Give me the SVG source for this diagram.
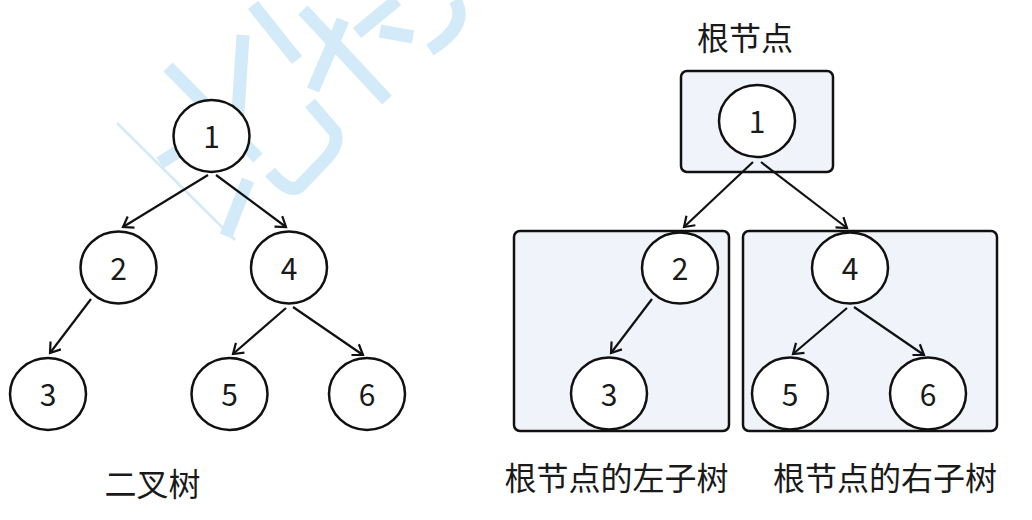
<svg xmlns="http://www.w3.org/2000/svg" width="1032" height="520" viewBox="0 0 1032 520">
<style>
.wm{fill:none;stroke:#d3eaf8;stroke-width:13;stroke-linecap:butt;stroke-linejoin:round}
.wmt{fill:none;stroke:#d3eaf8;stroke-width:2.5}
.nd{fill:#fff;stroke:#111;stroke-width:2.5}
.box{fill:#f0f3fa;stroke:#111;stroke-width:2.5}
.num{font-family:"Noto Sans CJK SC","Noto Sans",sans-serif;font-size:30px;fill:#1a1a1a;text-anchor:middle}
.lbl{font-family:"Noto Sans CJK SC",sans-serif;font-size:32px;fill:#1a1a1a;text-anchor:middle}
.edge{fill:none;stroke:#111;stroke-width:2.2;marker-end:url(#arr)}
</style>
<defs>
<marker id="arr" markerUnits="userSpaceOnUse" markerWidth="14" markerHeight="16" refX="11" refY="8" orient="auto">
<path d="M1.5,1.5 L11,8 L1.5,14.5" fill="none" stroke="#111" stroke-width="2.2" stroke-linejoin="miter"/>
</marker>
</defs>
<rect width="1032" height="520" fill="#fff"/>
<g id="watermark">
<path class="wm" d="M168,67 L258,158"/>
<path class="wm" d="M243,35 L238,113 L160,163"/>
<path class="wm" d="M248,180 L226,236"/>
<path class="wmt" d="M117,123 L235,240"/>
<path class="wm" d="M310,103 L335,132 Q340,145 323,162 L300,186 Q290,195 270,172"/>
<path class="wm" d="M253,5 L297,60"/>
<path class="wm" d="M303,10 L387,100"/>
<path class="wm" d="M343,20 L313,90"/>
<path class="wm" d="M397,0 L357,33"/>
<path class="wm" d="M380,31 L413,37"/>
<path class="wm" d="M455,0 Q470,25 430,50"/>
</g>
<g id="root-box"><rect class="box" x="681" y="71" width="152" height="101" rx="6"/></g>
<g id="left-subtree-box"><rect class="box" x="514" y="231" width="215" height="200" rx="6"/></g>
<g id="right-subtree-box"><rect class="box" x="743" y="231" width="254" height="200" rx="6"/></g>
<g id="connectors">
<line class="edge" x1="208" y1="175" x2="123" y2="227"/>
<line class="edge" x1="216" y1="175" x2="286" y2="227"/>
<line class="edge" x1="91" y1="299" x2="50" y2="353"/>
<line class="edge" x1="286" y1="308" x2="233" y2="354"/>
<line class="edge" x1="293" y1="307" x2="363" y2="355"/>
<line class="edge" x1="753" y1="162" x2="684" y2="227"/>
<line class="edge" x1="761" y1="162" x2="847" y2="228"/>
<line class="edge" x1="652" y1="299" x2="611" y2="353"/>
<line class="edge" x1="847" y1="308" x2="793" y2="354"/>
<line class="edge" x1="854" y1="307" x2="924" y2="355"/>
</g>
<g id="left-tree">
<g id="l1"><ellipse class="nd" cx="211.5" cy="136" rx="38" ry="36"/><text class="num" x="211.5" y="148">1</text></g>
<g id="l2"><ellipse class="nd" cx="118.5" cy="267.5" rx="38" ry="36"/><text class="num" x="118.5" y="279.5">2</text></g>
<g id="l4"><ellipse class="nd" cx="289" cy="267.5" rx="38" ry="36"/><text class="num" x="289" y="279.5">4</text></g>
<g id="l3"><ellipse class="nd" cx="48" cy="394" rx="38" ry="36"/><text class="num" x="48" y="406">3</text></g>
<g id="l5"><ellipse class="nd" cx="229.5" cy="394" rx="38" ry="36"/><text class="num" x="229.5" y="406">5</text></g>
<g id="l6"><ellipse class="nd" cx="367" cy="394" rx="38" ry="36"/><text class="num" x="367" y="406">6</text></g>
<text id="label-binary-tree" class="lbl" x="152.5" y="496">二叉树</text>
</g>
<g id="right-tree">
<g id="r1"><ellipse class="nd" cx="757" cy="121" rx="38" ry="36"/><text class="num" x="757" y="133">1</text></g>
<g id="r2"><ellipse class="nd" cx="680" cy="268" rx="38" ry="35.5"/><text class="num" x="680" y="280">2</text></g>
<g id="r4"><ellipse class="nd" cx="850" cy="268" rx="38" ry="35.5"/><text class="num" x="850" y="280">4</text></g>
<g id="r3"><ellipse class="nd" cx="609" cy="393.5" rx="38" ry="36"/><text class="num" x="609" y="405.5">3</text></g>
<g id="r5"><ellipse class="nd" cx="790" cy="393.5" rx="38" ry="36"/><text class="num" x="790" y="405.5">5</text></g>
<g id="r6"><ellipse class="nd" cx="928" cy="393.5" rx="38" ry="36"/><text class="num" x="928" y="405.5">6</text></g>
<text id="label-root" class="lbl" x="745" y="49.5">根节点</text>
<text id="label-left" class="lbl" x="616.5" y="489.5">根节点的左子树</text>
<text id="label-right" class="lbl" x="885" y="489.5">根节点的右子树</text>
</g>
</svg>
